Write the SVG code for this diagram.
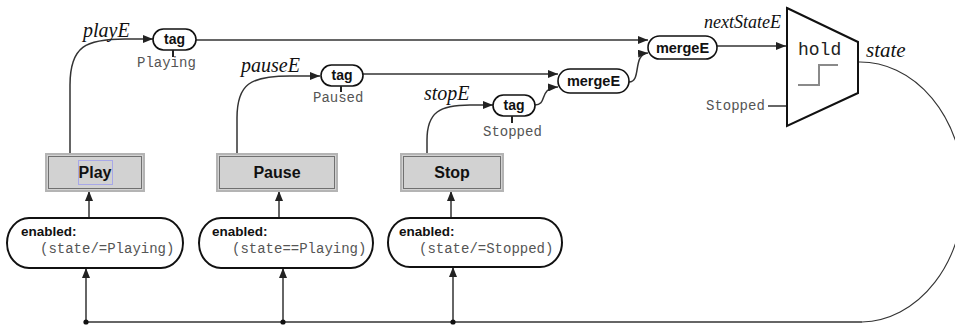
<svg xmlns="http://www.w3.org/2000/svg" width="955" height="326" viewBox="0 0 955 326">
<defs>
<marker id="arr" viewBox="0 0 10 8" refX="10" refY="4" markerWidth="10" markerHeight="8" markerUnits="userSpaceOnUse" orient="auto">
<path d="M0,0 L10,4 L0,8 z" fill="#222"/>
</marker>
<style>
.pill{fill:#fff;stroke:#111;stroke-width:1.6}
.en{fill:#fff;stroke:#111;stroke-width:2}
.btnO{fill:#d2d2d2;stroke:#b4b4b4;stroke-width:2}
.btnI{fill:none;stroke:#707070;stroke-width:1}
.bold{font-family:"Liberation Sans",Arial,sans-serif;font-weight:bold;fill:#111}
.mono{font-family:"Liberation Mono","Courier New",monospace;fill:#555}
.ital{font-family:"Liberation Serif","Times New Roman",serif;font-style:italic;fill:#111}
.c{fill:none;stroke:#333;stroke-width:1.5}
.tick{stroke:#222;stroke-width:2}
</style>
</defs>

<g id="connectors">
<path class="c" d="M70,154 V85 C70,46 86,39 125,39 H153" marker-end="url(#arr)"/>
<path class="c" d="M237,154 V118 C237,84 250,76 290,76 H320" marker-end="url(#arr)"/>
<path class="c" d="M427,154 V140 C427,112 440,105 470,105 H493" marker-end="url(#arr)"/>
<path class="c" d="M196,40 H648" marker-end="url(#arr)"/>
<path class="c" d="M363,74 H558" marker-end="url(#arr)"/>
<path class="c" d="M535,105 C548,105 538,88 558,87" marker-end="url(#arr)"/>
<path class="c" d="M629,82 C642,82 632,54 648,53" marker-end="url(#arr)"/>
<path class="c" d="M717,46 H786" marker-end="url(#arr)"/>
<path class="c" d="M768,106 H787"/>
<path fill="none" stroke="#333" stroke-width="1.1" d="M858,62 A104,130 0 0 1 862,322"/>
<path class="c" d="M86,322 H862"/>
<path class="c" d="M86,322 V268" marker-end="url(#arr)"/>
<path class="c" d="M283,322 V268" marker-end="url(#arr)"/>
<path class="c" d="M453,322 V267" marker-end="url(#arr)"/>
<path class="c" d="M89,218 V191" marker-end="url(#arr)"/>
<path class="c" d="M279,218 V191" marker-end="url(#arr)"/>
<path class="c" d="M451,218 V191" marker-end="url(#arr)"/>
<circle cx="86" cy="322" r="2.6" fill="#111"/>
<circle cx="283" cy="322" r="2.6" fill="#111"/>
<circle cx="453" cy="322" r="2.6" fill="#111"/>
<text class="ital" x="83" y="37" font-size="20">playE</text>
<text class="ital" x="241" y="72" font-size="20">pauseE</text>
<text class="ital" x="424" y="100" font-size="20">stopE</text>
<text class="ital" x="704" y="28" font-size="18">nextStateE</text>
<text class="ital" x="866" y="57" font-size="21">state</text>
</g>

<g id="tag-playing">
<rect class="pill" x="153" y="29" width="43" height="21" rx="10.5"/>
<text class="bold" x="174.5" y="44" font-size="14" text-anchor="middle">tag</text>
<line class="tick" x1="173" y1="50" x2="173" y2="57"/>
<text class="mono" x="137" y="67" font-size="14">Playing</text>
</g>

<g id="tag-paused">
<rect class="pill" x="321" y="65" width="42" height="21" rx="10.5"/>
<text class="bold" x="342" y="80" font-size="14" text-anchor="middle">tag</text>
<line class="tick" x1="341" y1="86" x2="341" y2="92"/>
<text class="mono" x="313" y="102" font-size="14">Paused</text>
</g>

<g id="tag-stopped">
<rect class="pill" x="493" y="95" width="42" height="21" rx="10.5"/>
<text class="bold" x="514" y="110" font-size="14" text-anchor="middle">tag</text>
<line class="tick" x1="512" y1="116" x2="512" y2="123"/>
<text class="mono" x="483" y="136" font-size="14">Stopped</text>
</g>

<g id="mergeE-2">
<rect class="pill" x="558" y="69" width="71" height="24" rx="12"/>
<text class="bold" x="593.5" y="86" font-size="14.5" text-anchor="middle">mergeE</text>
</g>

<g id="mergeE-1">
<rect class="pill" x="648" y="36" width="69" height="23" rx="11.5"/>
<text class="bold" x="682.5" y="52.5" font-size="14.5" text-anchor="middle">mergeE</text>
</g>

<g id="hold">
<polygon points="787,8 858,42 858,93 787,126" fill="#fff" stroke="#111" stroke-width="2"/>
<text class="mono" x="798" y="55" font-size="18" style="fill:#222">hold</text>
<polyline points="798,85 819,85 819,65 838,65" fill="none" stroke="#8a8a8a" stroke-width="2"/>
<text class="mono" x="706" y="110" font-size="14">Stopped</text>
</g>

<g id="btn-play">
<rect class="btnO" x="46" y="154" width="98" height="37"/>
<rect class="btnI" x="48.5" y="156.5" width="93" height="32"/>
<rect x="78.5" y="160.5" width="34" height="24" fill="none" stroke="#a8a8e8" stroke-width="1"/>
<text class="bold" x="95" y="178" font-size="16" text-anchor="middle">Play</text>
</g>

<g id="btn-pause">
<rect class="btnO" x="217" y="154" width="120" height="37"/>
<rect class="btnI" x="219.5" y="156.5" width="115" height="32"/>
<text class="bold" x="277" y="178" font-size="16" text-anchor="middle">Pause</text>
</g>

<g id="btn-stop">
<rect class="btnO" x="401" y="154" width="102" height="37"/>
<rect class="btnI" x="403.5" y="156.5" width="97" height="32"/>
<text class="bold" x="452" y="178" font-size="16" text-anchor="middle">Stop</text>
</g>

<g id="enabled-play">
<rect class="en" x="7" y="218" width="176" height="50" rx="22" ry="25"/>
<text class="bold" x="21" y="236" font-size="13.5">enabled:</text>
<text class="mono" x="40" y="253" font-size="14">(state/=Playing)</text>
</g>

<g id="enabled-pause">
<rect class="en" x="199" y="218" width="174" height="50" rx="22" ry="25"/>
<text class="bold" x="212" y="236" font-size="13.5">enabled:</text>
<text class="mono" x="232" y="253" font-size="14">(state==Playing)</text>
</g>

<g id="enabled-stop">
<rect class="en" x="388" y="218" width="174" height="49" rx="22" ry="24.5"/>
<text class="bold" x="399" y="236" font-size="13.5">enabled:</text>
<text class="mono" x="419" y="253" font-size="14">(state/=Stopped)</text>
</g>
</svg>
